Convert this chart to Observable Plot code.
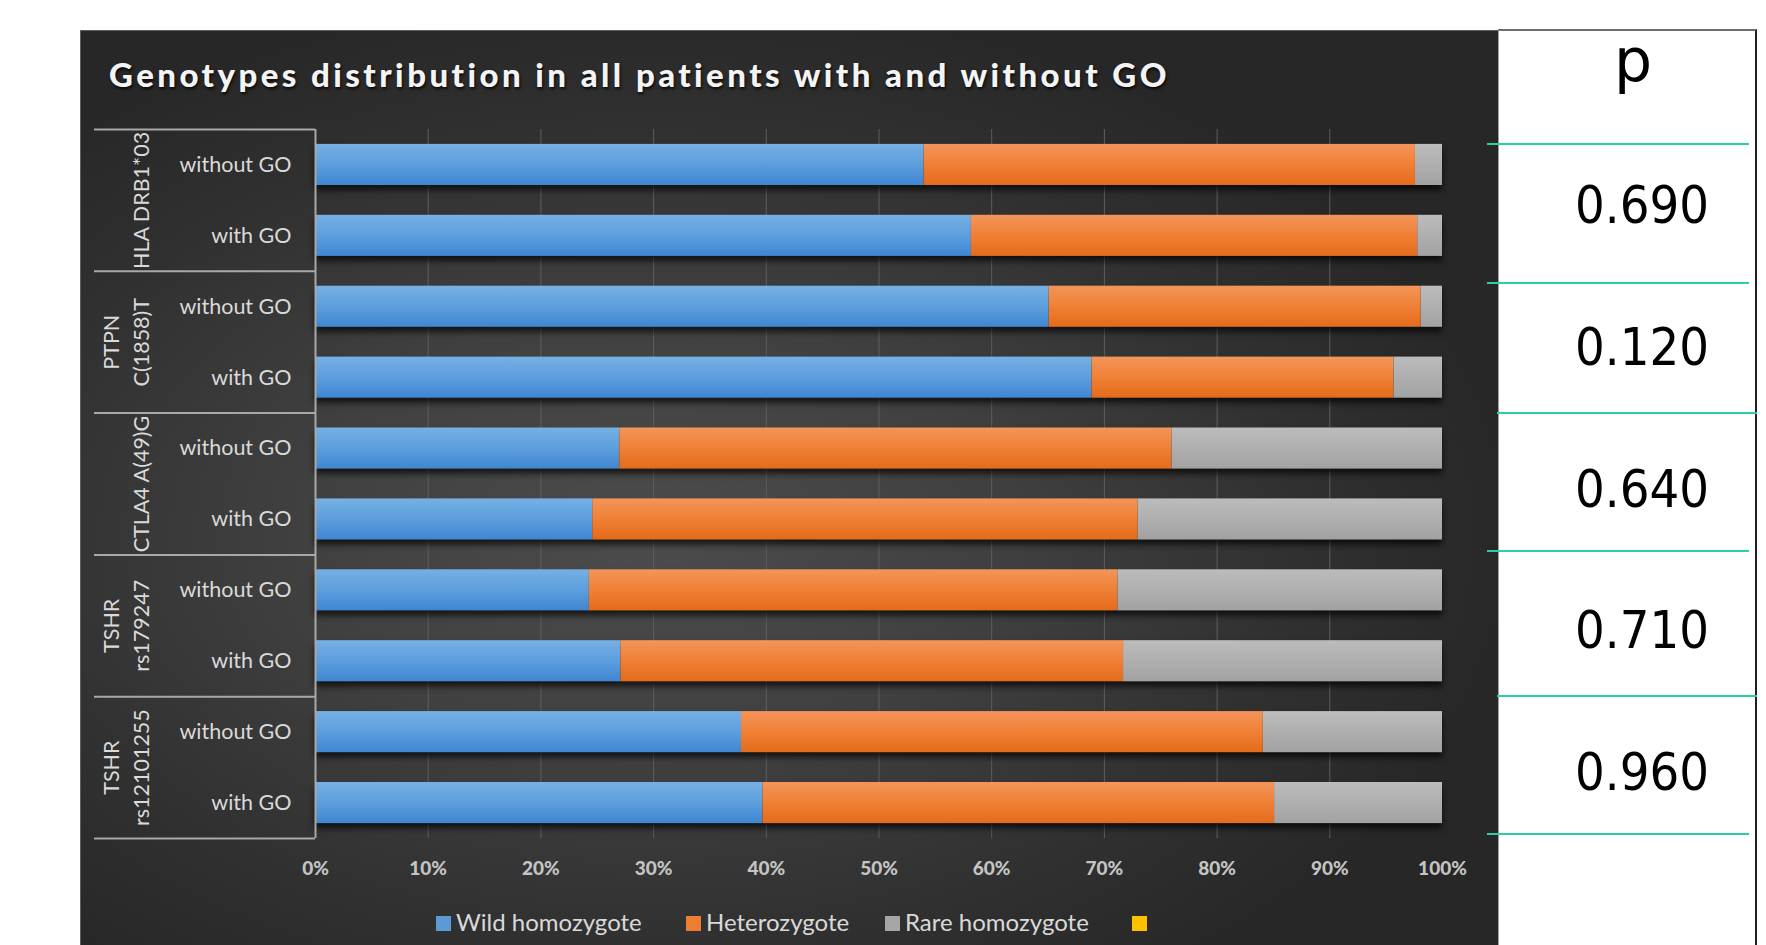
<!DOCTYPE html>
<html>
<head>
<meta charset="utf-8">
<script src="https://cdn.jsdelivr.net/npm/d3@7"></script>
<script src="https://cdn.jsdelivr.net/npm/@observablehq/plot@0.6"></script>
<style>
  html, body { margin: 0; padding: 0; background: #ffffff; width: 1766px; height: 945px; overflow: hidden; }
  body { position: relative; }
  #panel { position: absolute; left: 80px; top: 30px; width: 1418px; height: 915px; box-sizing: border-box;
    border-top: 1px solid #5e5e5e; border-left: 1px solid #5e5e5e;
    background: radial-gradient(ellipse 62% 60% at 40% 55%, #4c4c4c 0%, #404040 40%, #303030 75%, #272727 100%); }
  #title { position: absolute; left: 109px; top: 58px; font-family: Lato, sans-serif; font-weight: 900; font-size: 33px;
    line-height: 33px; color: #f4f4f4; white-space: nowrap; text-shadow: 1px 2px 3px rgba(0,0,0,0.8); }
  .plotbox { position: absolute; top: 90px; }
  #left { left: 94px; }
  #right { left: 295px; }
  #ptable { left: 1498px; }
  #right g[aria-label="bar"] { filter: drop-shadow(0px 5px 3px rgba(0,0,0,0.7)); }
  #tablebox { position: absolute; left: 1498px; top: 29px; width: 259px; height: 916px; box-sizing: border-box;
    background: #ffffff; border-top: 2px solid #6e6e6e; border-left: 1px solid #a0a0a0; border-right: 2px solid #202020; }
  .teal { position: absolute; height: 2px; background: #2ccfa4; }
  #phead { position: absolute; left: 1583px; width: 100px; text-align: center; top: 30px; font-family: "DejaVu Sans", sans-serif;
    font-size: 60px; line-height: 60px; color: #000; }
  .leg { position: absolute; top: 910px; font-family: Lato, sans-serif; font-size: 24px; line-height: 24px; color: #d9d9d9; white-space: nowrap; }
  .sw { position: absolute; top: 916px; width: 15px; height: 15px; }
</style>
</head>
<body>
<svg width="0" height="0" style="position:absolute">
  <defs>
    <linearGradient id="gBlue" x1="0" y1="0" x2="0" y2="1">
      <stop offset="0" stop-color="#76b0e4"/><stop offset="0.5" stop-color="#5d9edd"/><stop offset="1" stop-color="#3f86d2"/>
    </linearGradient>
    <linearGradient id="gOrange" x1="0" y1="0" x2="0" y2="1">
      <stop offset="0" stop-color="#f3955a"/><stop offset="0.5" stop-color="#f08035"/><stop offset="1" stop-color="#e46b1b"/>
    </linearGradient>
    <linearGradient id="gGray" x1="0" y1="0" x2="0" y2="1">
      <stop offset="0" stop-color="#bcbcbc"/><stop offset="1" stop-color="#a2a2a2"/>
    </linearGradient>
  </defs>
</svg>
<div id="panel"></div>
<div id="title">Genotypes distribution in all patients with and without GO</div>
<div id="tablebox"></div>
<div id="phead">p</div>
<div id="left" class="plotbox"></div>
<div id="right" class="plotbox"></div>
<div id="ptable" class="plotbox"></div>
<div id="legend"></div>
<script>
// ---------- data ----------
const genes = ["HLA DRB1*03", "PTPN\nC(1858)T", "CTLA4 A(49)G", "TSHR\nrs179247", "TSHR\nrs12101255"];
const cohorts = ["without GO", "with GO"];
const seriesNames = ["Wild homozygote", "Heterozygote", "Rare homozygote", ""];
const seriesColors = ["#5b9bd5", "#ed7d31", "#a5a5a5", "#ffc000"];
// percentages, rows ordered gene by gene: without GO, with GO
const wildHomozygote = [54.0, 58.2, 65.1, 68.9, 27.0, 24.6, 24.3, 27.1, 37.8, 39.7];
const heterozygote   = [43.6, 39.6, 33.0, 26.8, 49.0, 48.4, 46.9, 44.6, 46.3, 45.4];
const rareHomozygote = [ 2.4,  2.2,  1.9,  4.3, 24.0, 27.0, 28.8, 28.3, 15.9, 14.9];
const pValues = ["0.690", "0.120", "0.640", "0.710", "0.960"];
const xTicks = [0, 10, 20, 30, 40, 50, 60, 70, 80, 90, 100];

// ---------- tables ----------
const rows = genes.flatMap(g => cohorts.map(c => ({gene: g, cohort: c, key: g + " | " + c})));
const rowKeys = rows.map(r => r.key);
const seriesValues = [wildHomozygote, heterozygote, rareHomozygote];
const table = rows.flatMap((r, i) => seriesValues.map((vals, s) => ({key: r.key, genotype: seriesNames[s], value: vals[i]})));
const pTable = genes.map((g, i) => ({gene: g, p: pValues[i]}));

// ---------- layout ----------
const H = 810, MT = 39, MB = 62;
const step = (H - MT - MB) / rowKeys.length;
const yBand = {type: "band", domain: rowKeys, paddingInner: 0.42, paddingOuter: 0.21, round: false, axis: null};
const baseStyle = {background: "transparent", overflow: "visible", fontFamily: "Lato, sans-serif"};

const leftPlot = Plot.plot({
  width: 221, height: H, marginTop: MT, marginBottom: MB, marginLeft: 0, marginRight: 0,
  y: yBand,
  style: baseStyle,
  marks: [
    Plot.ruleY(rows.filter(r => r.cohort === cohorts[0]).map(r => r.key), {dy: -step / 2, stroke: "#a8a8a8", strokeWidth: 2}),
    Plot.ruleY([rowKeys[rowKeys.length - 1]], {dy: step / 2, stroke: "#a8a8a8", strokeWidth: 2}),
    Plot.text(rows, {y: "key", text: "cohort", frameAnchor: "right", dx: -24, fill: "#dadada", fontSize: 21.5}),
    Plot.text(genes, {y: g => g + " | " + cohorts[0], text: g => g, frameAnchor: "left", dx: 54, dy: step / 2,
      rotate: -90, lineAnchor: "bottom", lineHeight: 1.38, textAnchor: "middle", fill: "#dadada", fontSize: 21.5})
  ]
});
document.getElementById("left").appendChild(leftPlot);

const rightPlot = Plot.plot({
  width: 1203, height: H, marginTop: MT, marginBottom: MB, marginLeft: 20, marginRight: 56,
  x: {domain: [0, 100], ticks: xTicks, tickFormat: d => d + "%", tickSize: 0, tickPadding: 23, label: null},
  y: yBand,
  color: {domain: seriesNames.slice(0, 3), range: ["url(#gBlue)", "url(#gOrange)", "url(#gGray)"]},
  style: {...baseStyle, color: "#c4c4c4", fontSize: "19px", fontWeight: "900"},
  marks: [
    Plot.ruleX(xTicks.filter(t => t > 0 && t < 100), {stroke: "#5e5e5e", strokeWidth: 1}),
    Plot.barX(table, Plot.stackX({y: "key", x: "value", fill: "genotype", order: seriesNames.slice(0, 3)})),
    Plot.ruleX([0], {stroke: "#a8a8a8", strokeWidth: 2})
  ]
});
document.getElementById("right").appendChild(rightPlot);

const tablePlot = Plot.plot({
  width: 259, height: H, marginTop: MT, marginBottom: MB, marginLeft: 28, marginRight: 0,
  y: {type: "band", domain: genes, padding: 0, round: false, axis: null},
  style: {...baseStyle},
  marks: [
    Plot.text(pTable, {y: "gene", text: "p", fontSize: 52, dy: 6, fill: "#000000",
      fontFamily: "'DejaVu Sans Condensed', 'DejaVu Sans', sans-serif", fontStretch: "condensed"})
  ]
});
document.getElementById("ptable").appendChild(tablePlot);

// teal separators of the p table
[[144, 1487, 1749], [283, 1487, 1749], [413, 1497, 1757], [551, 1487, 1749], [696, 1497, 1757], [834, 1487, 1749]]
  .forEach(([y, x1, x2]) => {
    const d = document.createElement("div");
    d.className = "teal";
    d.style.left = x1 + "px"; d.style.top = (y - 1) + "px"; d.style.width = (x2 - x1) + "px";
    document.body.appendChild(d);
  });

// legend
const legX = [436, 686, 885, 1132];
const legend = document.getElementById("legend");
seriesNames.forEach((name, i) => {
  const sw = document.createElement("div");
  sw.className = "sw"; sw.style.left = legX[i] + "px"; sw.style.background = seriesColors[i];
  legend.appendChild(sw);
  if (name) {
    const t = document.createElement("div");
    t.className = "leg"; t.style.left = (legX[i] + 20) + "px"; t.textContent = name;
    legend.appendChild(t);
  }
});

// fit title width
const title = document.getElementById("title");
const fit = () => {
  title.style.letterSpacing = "0px";
  const w = title.getBoundingClientRect().width;
  const n = title.textContent.length;
  title.style.letterSpacing = ((1062 - w) / n) + "px";
};
fit();
if (document.fonts && document.fonts.ready) document.fonts.ready.then(fit);
</script>
</body>
</html>
